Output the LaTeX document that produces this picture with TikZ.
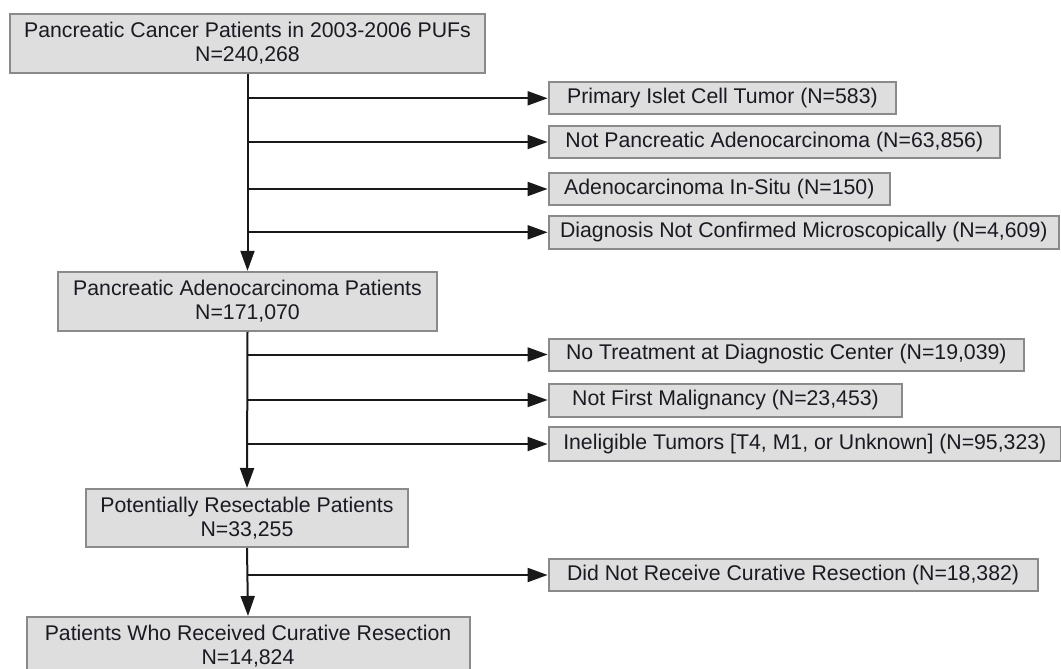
\documentclass[tikz,border=0pt]{standalone}
\usepackage{fontspec}
\setmainfont{Liberation Sans}
\usetikzlibrary{arrows.meta}
\definecolor{boxfill}{HTML}{DEDEDE}
\definecolor{boxline}{HTML}{8A8A8A}
\definecolor{txt}{HTML}{1A1A22}
\begin{document}
\begin{tikzpicture}[x=1pt,y=-1pt,
  box/.style={draw=boxline, line width=2pt, fill=boxfill, text=txt,
    font=\fontsize{21.26}{24}\selectfont, align=center, inner sep=0pt},
  mainbox/.style={box, minimum height=59pt},
  sidebox/.style={box, anchor=west, minimum height=32pt},
  conn/.style={draw=black!90, line width=2pt},
  arr/.style={conn, -{Triangle[length=20pt,width=14pt]}}]
\useasboundingbox (0,0) rectangle (1061,669);
\fill[white] (0,0) rectangle (1061,669);
% main column
\node[mainbox, minimum width=475pt] (b1) at (247.5,43.5) {Pancreatic Cancer Patients in 2003-2006 PUFs\\N=240,268};
\node[mainbox, minimum width=379pt] (b2) at (247.5,301.3) {Pancreatic Adenocarcinoma Patients\\N=171,070};
\node[mainbox, minimum width=322pt, minimum height=58pt] (b3) at (247,518) {Potentially Resectable Patients\\N=33,255};
\node[mainbox, minimum width=443pt] (b4) at (248,646.5) {Patients Who Received Curative Resection\\N=14,824};
% side boxes
\node[sidebox, minimum width=347.7pt] (r1) at (547.6,98.3) {Primary Islet Cell Tumor (N=583)};
\node[sidebox, minimum width=451.4pt] (r2) at (547.6,142) {Not Pancreatic Adenocarcinoma (N=63,856)};
\node[sidebox, minimum width=341.4pt] (r3) at (547.6,189) {Adenocarcinoma In-Situ (N=150)};
\node[sidebox, minimum width=510.4pt, minimum height=33pt] (r4) at (547.6,232.3) {Diagnosis Not Confirmed Microscopically (N=4,609)};
\node[sidebox, minimum width=475.4pt] (r5) at (547.6,354.5) {No Treatment at Diagnostic Center (N=19,039)};
\node[sidebox, minimum width=353.8pt, minimum height=33pt] (r6) at (547.6,400) {Not First Malignancy (N=23,453)};
\node[sidebox, minimum width=512.4pt, minimum height=34pt] (r7) at (547.6,444) {Ineligible Tumors [T4, M1, or Unknown] (N=95,323)};
\node[sidebox, minimum width=489pt] (r8) at (547.6,575) {Did Not Receive Curative Resection (N=18,382)};
% trunks
\draw[arr] (b1.south) -- (b2.north);
\draw[arr] (b2.south) -- (b3.north);
\draw[arr] (b3.south) -- (b4.north);
% branches
\foreach \r in {r1,r2,r3,r4} {\draw[arr] (b1.south |- \r.west) -- (\r.west);}
\foreach \r in {r5,r6,r7} {\draw[arr] (b2.south |- \r.west) -- (\r.west);}
\draw[arr] (b3.south |- r8.west) -- (r8.west);
\end{tikzpicture}
\end{document}
